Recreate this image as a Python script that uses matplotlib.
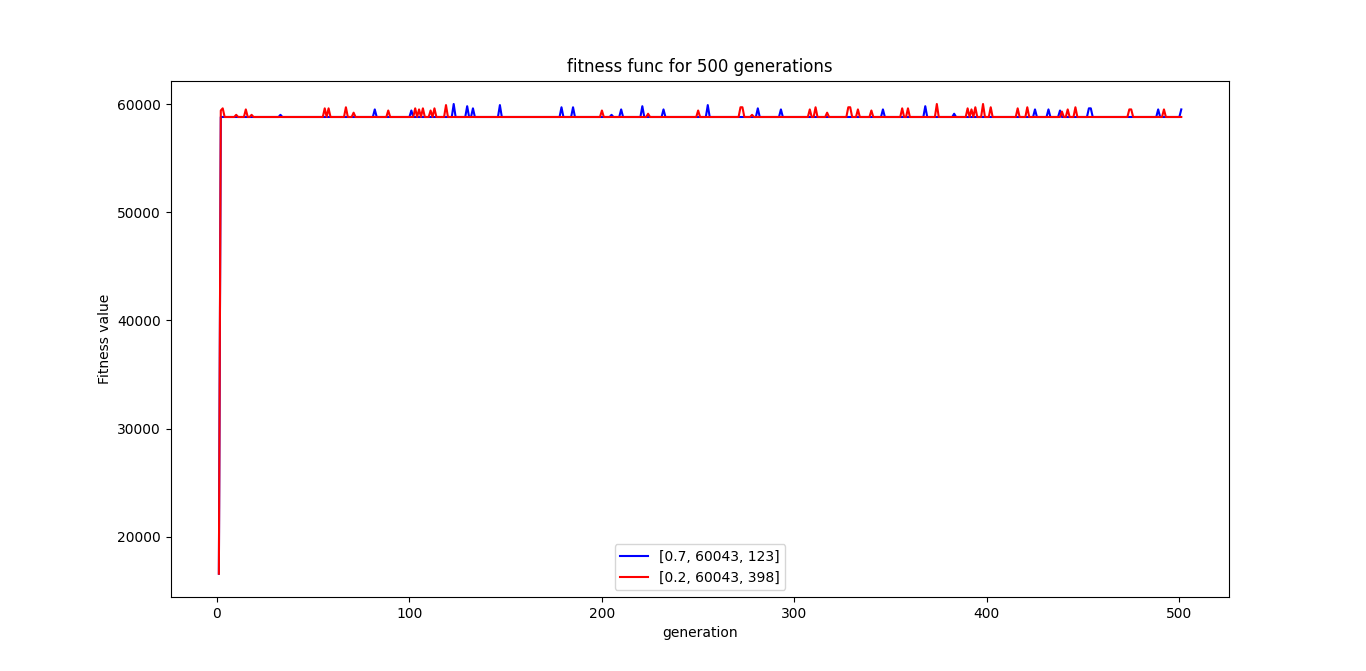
import numpy as np
import matplotlib.pyplot as plt

generations = np.arange(1, 502)
base_fitness = 58800
start_fitness = [16600, 16600]  # blue, red at generation 1

# spikes above the plateau: generation -> fitness
blue_gen = [33, 82, 101, 123, 130, 133, 147, 179, 185, 205, 210, 221, 232, 255, 281,
            293, 346, 368, 383, 425, 432, 438, 453, 454, 489, 501]
blue_val = [59000, 59500, 59400, 60000, 59800, 59600, 59900, 59700, 59700, 59000, 59500,
            59800, 59500, 59900, 59600, 59500, 59500, 59800, 59100, 59500, 59500, 59400,
            59600, 59600, 59500, 59500]
red_gen = [2, 3, 10, 15, 18, 56, 58, 67, 71, 89, 103, 105, 107, 111, 113, 119, 200, 224,
           250, 272, 273, 278, 308, 311, 317, 328, 329, 333, 340, 356, 359, 374, 390, 392,
           394, 398, 402, 416, 421, 439, 442, 446, 474, 475, 492]
red_val = [59400, 59600, 59000, 59500, 59000, 59600, 59600, 59700, 59200, 59400, 59600,
           59500, 59600, 59400, 59600, 59900, 59400, 59100, 59400, 59700, 59700, 59000,
           59500, 59700, 59200, 59700, 59700, 59500, 59400, 59600, 59600, 60000, 59600,
           59500, 59700, 60000, 59700, 59600, 59700, 59300, 59500, 59700, 59500, 59500,
           59500]


def build(gens, vals, start):
    y = np.full(len(generations), float(base_fitness))
    y[0] = start
    for g, v in zip(gens, vals):
        y[g - 1] = v
    return y


blue = build(blue_gen, blue_val, start_fitness[0])
red = build(red_gen, red_val, start_fitness[1])

fig, ax = plt.subplots(figsize=(13.66, 6.71), dpi=100)
ax.plot(generations, blue, color='blue', label='[0.7, 60043, 123]')
ax.plot(generations, red, color='red', label='[0.2, 60043, 398]')
ax.set_title('fitness func for 500 generations')
ax.set_xlabel('generation')
ax.set_ylabel('Fitness value')
ax.legend(loc='lower center')
fig.savefig('out.png')
